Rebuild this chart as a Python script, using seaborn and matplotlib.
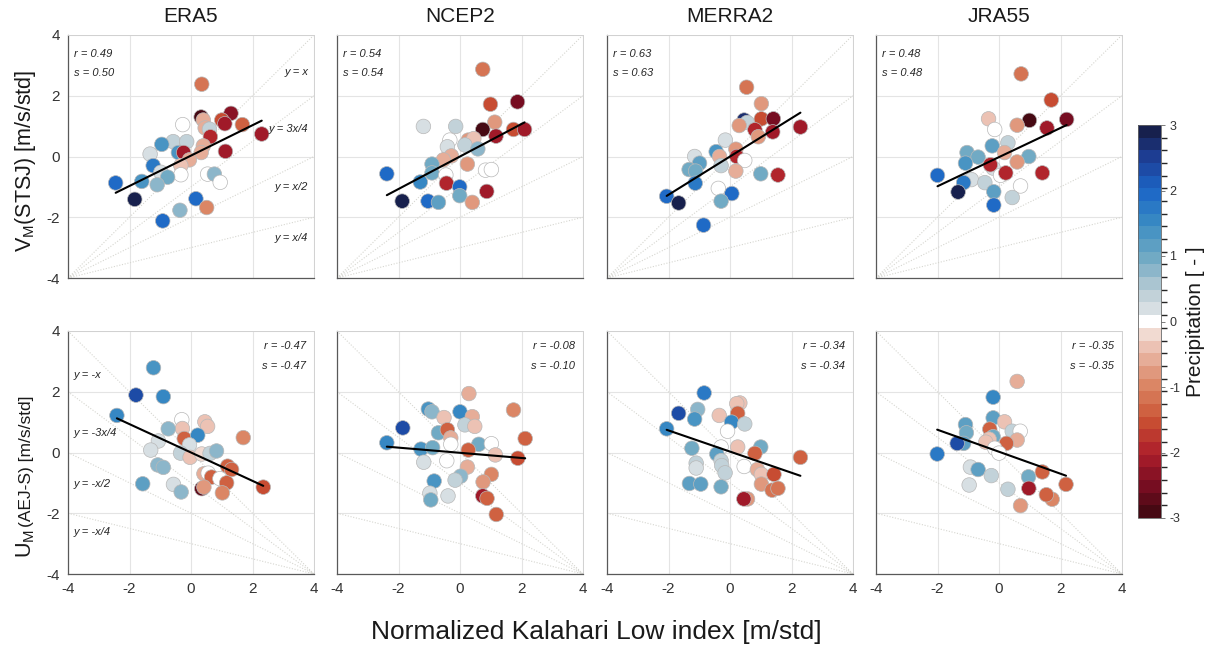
import numpy as np
import pandas as pd
import matplotlib
matplotlib.use("Agg")
import matplotlib.pyplot as plt
import seaborn as sns
from matplotlib.colors import LinearSegmentedColormap, ListedColormap, BoundaryNorm

# ---------------- data ----------------
datasets = ["ERA5", "NCEP2", "MERRA2", "JRA55"]

# Top row: V_M(STSJ) vs Kalahari Low index
era5_v_x = [0.35, 0.33, 0.40, 1.30, 1.00, 1.10, 1.67, 2.30, -0.27, 0.46, 0.60, 0.63, -0.58, -0.14, -0.95, -1.33, -0.41, -0.24, 0.40, 0.33, 1.12, -0.05, -0.33, -1.23, -0.98, -0.33, 0.54, 0.76, 0.95, -0.76, -1.60, -2.45, -1.10, -1.83, 0.16, 0.51, -0.36, -0.92]
era5_v_y = [2.38, 1.30, 1.20, 1.42, 1.20, 1.08, 1.05, 0.74, 1.05, 0.94, 0.90, 0.65, 0.49, 0.49, 0.40, 0.08, 0.13, 0.13, 0.35, 0.13, 0.17, -0.11, -0.30, -0.30, -0.52, -0.60, -0.58, -0.58, -0.85, -0.68, -0.82, -0.87, -0.93, -1.41, -1.39, -1.68, -1.77, -2.12]
era5_v_p = [-1.2, -2.9, -0.6, -2.4, -1.6, -2.1, -1.4, -2.1, 0, -0.5, 0.4, -2.0, 0.3, 0.3, 1.3, 0.2, 1.4, -2.1, -0.6, -0.5, -2.2, -0.5, -0.4, 1.8, 0.2, 0, 0, 0.8, 0, 0.9, 1.3, 2.0, 0.8, 2.9, 2.0, -0.9, 0.8, 1.9]

ncep2_v_x = [0.74, 0.99, 1.87, 1.13, -1.19, -0.14, 0.74, 1.17, 1.74, 2.10, -0.33, 0.27, 0.45, -0.41, 0.16, 0.58, -0.28, -0.54, -0.91, -0.91, 0.24, 0.83, 1.02, -0.46, -2.38, -1.29, -0.44, -0.01, 0.87, -0.01, -1.88, -1.04, -0.70, 0.40]
ncep2_v_y = [2.87, 1.72, 1.80, 1.13, 0.99, 0.99, 0.89, 0.67, 0.89, 0.89, 0.54, 0.54, 0.59, 0.32, 0.38, 0.25, 0.02, -0.11, -0.25, -0.54, -0.25, -0.45, -0.43, -0.61, -0.57, -0.84, -0.88, -1.00, -1.15, -1.29, -1.47, -1.47, -1.51, -1.51]
ncep2_v_p = [-1.2, -1.5, -2.5, -0.8, 0.2, 0.3, -2.9, -2.1, -1.5, -2.1, 0, -0.7, -0.3, 0.2, 0.4, 0.8, -0.6, -0.5, 0.9, 1.0, -0.7, 0, 0, 0, 2.0, 1.6, -2.0, 2.0, -2.1, 1.0, 2.9, 1.9, 1.2, -0.8]

merra2_v_x = [0.54, 1.02, 0.46, 0.56, 1.02, 1.41, 0.30, 0.81, 1.39, 2.29, 0.92, -0.15, -0.45, 0.19, -0.34, 0.22, 0.48, -1.15, -0.99, -1.33, -1.12, -0.29, 0.19, 1.00, 1.56, -1.13, -0.38, 0.06, -2.06, -1.67, -0.29, -0.86]
merra2_v_y = [2.28, 1.74, 1.20, 1.12, 1.24, 1.24, 1.02, 0.88, 0.81, 0.97, 0.65, 0.54, 0.16, 0.24, 0.00, 0.00, -0.13, 0.00, -0.22, -0.43, -0.48, -0.30, -0.48, -0.57, -0.61, -0.88, -1.05, -1.22, -1.31, -1.53, -1.47, -2.26]
merra2_v_p = [-1.2, -0.8, 2.8, 0.4, -1.6, -2.5, -0.7, -2.0, -2.2, -2.1, -0.8, 0.2, 1.3, -0.7, -0.5, -2.0, 0, 0.2, 1.2, 0.9, 0.9, 0.4, -0.6, 0.9, -2.0, 1.7, 0, 1.9, 2.0, 2.9, 1.0, 1.9]

jra55_v_x = [0.72, 1.70, 2.20, 0.99, 0.59, 1.56, -0.34, -0.14, 0.29, -0.22, -1.04, -0.68, 0.18, 0.97, -1.09, -0.19, -0.28, 0.59, 0.05, 0.22, 1.41, -2.00, -0.90, -1.15, -0.46, 0.70, -1.33, -0.17, 0.43, -0.17]
jra55_v_y = [2.72, 1.86, 1.22, 1.19, 1.03, 0.94, 1.24, 0.89, 0.45, 0.35, 0.13, -0.02, 0.13, 0.00, -0.22, -0.38, -0.27, -0.18, -0.62, -0.54, -0.54, -0.62, -0.76, -0.86, -0.86, -0.97, -1.17, -1.16, -1.35, -1.60]
jra55_v_p = [-1.2, -1.5, -2.5, -2.9, -0.8, -2.1, -0.4, 0, 0.3, 1.2, 0.9, 1.0, -0.6, 0.9, 1.3, 0.2, -2.0, -0.7, 0, -2.0, -2.0, 2.0, 0.2, 1.7, 0.3, 0, 2.9, 1.1, 0.4, 1.9]

# Bottom row: U_M(AEJ-S) vs Kalahari Low index
era5_u_x = [-1.22, -1.79, -0.90, -2.41, -0.30, 0.45, 0.54, -0.28, -0.74, -0.22, 0.22, 1.70, -1.06, -1.31, -0.05, -0.34, -0.03, 0.35, 0.62, 0.83, -1.08, -0.90, 1.19, 1.32, 0.42, 0.56, 0.67, 0.94, 1.16, -1.57, -0.57, -0.32, 0.35, 0.42, 1.02, 2.35]
era5_u_y = [2.79, 1.89, 1.84, 1.22, 1.08, 1.01, 0.86, 0.79, 0.78, 0.46, 0.57, 0.49, 0.38, 0.08, 0.25, -0.02, -0.16, -0.05, -0.03, 0.05, -0.41, -0.49, -0.45, -0.56, -0.70, -0.68, -0.81, -0.86, -1.00, -1.03, -1.05, -1.30, -1.19, -1.14, -1.33, -1.14]
era5_u_p = [1.3, 2.3, 1.6, 1.6, 0, -0.4, -0.4, -0.3, 0.8, -1.4, 1.6, -1.0, 0.2, 0.2, 0.2, 0.3, -0.3, -0.2, 0.3, 0.8, 0.8, 0.8, -1.4, -1.3, -0.6, 0, -1.3, 0, -1.4, 1.2, 0.2, 0.8, -2.8, -0.7, -1.0, -1.5]

ncep2_u_x = [0.29, 1.74, -1.03, -0.91, 0.00, -0.52, 0.40, 0.16, 0.48, -1.86, -0.70, -0.41, -0.30, -0.30, 2.12, -2.38, -1.27, -0.89, 0.61, 1.02, 0.27, 1.15, 1.88, -1.18, -0.43, 0.24, 1.02, 0.02, -0.16, 0.75, -0.84, -0.98, -0.95, -0.39, 0.74, 0.88, 1.18]
ncep2_u_y = [1.94, 1.40, 1.43, 1.34, 1.34, 1.15, 1.18, 0.91, 0.86, 0.81, 0.65, 0.75, 0.48, 0.27, 0.46, 0.32, 0.11, 0.16, 0.27, 0.29, 0.08, -0.08, -0.19, -0.32, -0.27, -0.48, -0.72, -0.78, -0.91, -0.97, -0.94, -1.34, -1.56, -1.43, -1.43, -1.51, -2.04]
ncep2_u_p = [-0.5, -1.0, 1.4, 0.8, 1.5, -0.3, -0.5, 0.4, -0.3, 2.3, 0.9, -1.4, -0.5, 0, -1.4, 1.6, 1.4, 0.9, 0.9, 0, -1.4, -0.4, -1.6, 0.2, 0, -0.6, -1.0, 0.8, 0.3, -0.8, 1.3, 0.2, 0.9, 0.2, -2.2, -1.3, -1.4]

merra2_u_x = [-0.84, 0.32, 0.22, -1.67, -1.05, 0.25, -1.15, -0.35, 0.05, 0.48, -0.08, -2.06, -0.29, 0.25, -1.24, 1.00, -0.43, 0.81, 2.29, -1.10, -1.10, -0.29, -0.27, -0.16, 0.46, 0.89, 1.02, 1.43, -1.32, -0.95, -0.29, 1.02, 1.37, 1.56, 0.57, 0.45]
merra2_u_y = [1.96, 1.63, 1.61, 1.29, 1.42, 1.29, 1.10, 1.22, 1.00, 0.94, 0.70, 0.78, 0.18, 0.18, 0.14, 0.18, -0.05, -0.03, -0.16, -0.35, -0.51, -0.27, -0.43, -0.67, -0.46, -0.56, -0.72, -0.72, -1.02, -1.04, -1.13, -1.04, -1.24, -1.18, -1.53, -1.53]
merra2_u_p = [1.7, -0.4, -0.3, 2.3, 0.8, -1.4, 1.3, -0.4, 1.6, 0.4, 0, 1.6, 0, -0.4, 0.9, 0.9, 1.2, -1.4, -1.3, 0.3, 0.2, 0.3, 0.4, 0.3, 0, -0.5, -0.4, -1.5, 1.2, 1.1, 0.9, -0.8, -1.2, -1.1, -0.8, -2.2]

jra55_u_x = [0.59, -0.19, -0.19, -1.09, -1.06, 0.18, 0.43, 0.69, -0.30, -0.19, 0.59, 0.24, -0.32, -0.43, -1.15, -1.36, -0.14, 0.00, -2.01, -0.93, -0.68, -0.25, 0.96, 1.41, 2.18, -0.97, 0.29, 0.97, 1.73, 1.54, 0.70]
jra55_u_y = [2.34, 1.82, 1.14, 0.92, 0.65, 1.01, 0.70, 0.70, 0.77, 0.52, 0.41, 0.30, 0.44, 0.34, 0.30, 0.30, 0.14, -0.02, -0.05, -0.48, -0.56, -0.76, -0.80, -0.64, -1.05, -1.07, -1.21, -1.18, -1.54, -1.39, -1.75]
jra55_u_p = [-0.5, 1.6, 1.1, 1.2, 0.9, -0.4, 0.4, 0, -1.4, 1.0, -0.5, -1.4, -0.3, -0.3, 1.2, 2.3, 0, 0, 1.7, 0.2, 1.1, 0.4, 0.9, -1.3, -1.4, 0.2, 0.4, -2.2, -1.0, -1.3, -0.8]

# statistics and regression lines
v_r = ["0.49", "0.54", "0.63", "0.48"]
v_s = ["0.50", "0.54", "0.63", "0.48"]
u_r = ["-0.47", "-0.08", "-0.34", "-0.35"]
u_s = ["-0.47", "-0.10", "-0.34", "-0.35"]
v_fit_slope = [0.50, 0.535, 0.63, 0.48]
v_fit_icpt = [0.03, 0.0, 0.0, -0.02]
u_fit_slope = [-0.467, -0.085, -0.348, -0.362]
u_fit_icpt = [0.0, -0.01, 0.03, 0.025]

ref_slopes = [1.0, 0.75, 0.5, 0.25]
v_ref_labels = ["y = x", "y = 3x/4", "y = x/2", "y = x/4"]
v_ref_label_y = [2.79, 0.89, -1.01, -2.67]
u_ref_labels = ["y = -x", "y = -3x/4", "y = -x/2", "y = -x/4"]
u_ref_label_y = [2.56, 0.63, -1.03, -2.63]

cbar_ticks = [-3, -2, -1, 0, 1, 2, 3]

v_data = [(era5_v_x, era5_v_y, era5_v_p), (ncep2_v_x, ncep2_v_y, ncep2_v_p),
          (merra2_v_x, merra2_v_y, merra2_v_p), (jra55_v_x, jra55_v_y, jra55_v_p)]
u_data = [(era5_u_x, era5_u_y, era5_u_p), (ncep2_u_x, ncep2_u_y, ncep2_u_p),
          (merra2_u_x, merra2_u_y, merra2_u_p), (jra55_u_x, jra55_u_y, jra55_u_p)]

# ---------------- style ----------------
sns.set_theme(style="white")
plt.rcParams["font.family"] = ["Liberation Sans", "DejaVu Sans"]
plt.rcParams["mathtext.fontset"] = "custom"
plt.rcParams["mathtext.rm"] = "Liberation Sans"
plt.rcParams["axes.unicode_minus"] = False

anchors = [(-3, "#3a0810"), (-2.5, "#7a0d22"), (-2, "#ad1f2b"), (-1.5, "#cb5333"),
           (-1, "#da8462"), (-0.5, "#e8b4a2"), (-0.15, "#f3e0d9"), (0, "#ffffff"),
           (0.15, "#dde3e6"), (0.5, "#b5cad3"), (1, "#6ea8c3"), (1.5, "#3a8cc3"),
           (2, "#1b66c6"), (2.5, "#1e3f97"), (3, "#15193c")]
base = LinearSegmentedColormap.from_list("pr", [((v + 3) / 6, c) for v, c in anchors])
nlev = 31
centers = (np.arange(nlev) + 0.5) / nlev
cols = base(centers)
cols[nlev // 2] = [1, 1, 1, 1]
cmap = ListedColormap(cols)
norm = BoundaryNorm(np.linspace(-3, 3, nlev + 1), nlev)

W, H = 1211, 650
fig = plt.figure(figsize=(W / 100, H / 100), dpi=100)

lefts = [68, 337, 607, 876]
row_tops = [35, 331]
aw, ah = 246, 243

for row in range(2):
    for col in range(4):
        l = lefts[col]
        t = row_tops[row]
        ax = fig.add_axes([l / W, 1 - (t + ah) / H, aw / W, ah / H])
        if row == 0:
            xs, ys, ps = v_data[col]
            slope, icpt = v_fit_slope[col], v_fit_icpt[col]
        else:
            xs, ys, ps = u_data[col]
            slope, icpt = u_fit_slope[col], u_fit_icpt[col]
        df = pd.DataFrame({"x": xs, "y": ys, "p": ps})

        ax.set_xlim(-4, 4)
        ax.set_ylim(-4, 4)
        ax.set_xticks([-4, -2, 0, 2, 4])
        ax.set_yticks([-4, -2, 0, 2, 4])
        ax.grid(True, color="#e4e4e4", lw=0.8)
        ax.set_axisbelow(True)

        # reference lines
        xr = np.array([-4.0, 4.0])
        for k in ref_slopes:
            if row == 0:
                yr = -4 + k * (xr + 4)
            else:
                yr = -4 - k * (xr - 4)
            ax.plot(xr, yr, ls=(0, (1, 1.5)), color="#d6d6d0", lw=0.8, zorder=1)

        sns.scatterplot(data=df, x="x", y="y", hue="p", palette=cmap, hue_norm=norm,
                        s=110, edgecolor="#b8b8b8", linewidth=0.5, legend=False,
                        ax=ax, zorder=3)

        xl = np.array([df["x"].min(), df["x"].max()])
        sns.lineplot(x=xl, y=slope * xl + icpt, color="black", lw=1.5, ax=ax, zorder=4)

        # texts
        if row == 0:
            ax.text(-3.8, 3.37, f"r = {v_r[col]}", style="italic", fontsize=8, va="center", ha="left", color="0.15")
            ax.text(-3.8, 2.74, f"s = {v_s[col]}", style="italic", fontsize=8, va="center", ha="left", color="0.15")
            if col == 0:
                for lab, yy in zip(v_ref_labels, v_ref_label_y):
                    ax.text(3.82, yy, lab, style="italic", fontsize=8, va="center", ha="right", color="0.15")
        else:
            ax.text(3.75, 3.49, f"r = {u_r[col]}", style="italic", fontsize=8, va="center", ha="right", color="0.15")
            ax.text(3.75, 2.86, f"s = {u_s[col]}", style="italic", fontsize=8, va="center", ha="right", color="0.15")
            if col == 0:
                for lab, yy in zip(u_ref_labels, u_ref_label_y):
                    ax.text(-3.82, yy, lab, style="italic", fontsize=8, va="center", ha="left", color="0.15")

        ax.set_xlabel("")
        ax.set_ylabel("")
        for side in ["left", "bottom"]:
            ax.spines[side].set_color("0.35")
            ax.spines[side].set_linewidth(0.9)
        for side in ["top", "right"]:
            ax.spines[side].set_color("0.82")
            ax.spines[side].set_linewidth(0.7)
        ax.tick_params(direction="in", length=3, width=0.7, color="0.35",
                       labelsize=11, labelcolor="0.2", pad=6)
        if row == 0:
            ax.tick_params(labelbottom=False)
            ax.set_title(datasets[col], fontsize=15, pad=9, color="0.1")
        if col != 0:
            ax.tick_params(labelleft=False)

# colorbar
cax = fig.add_axes([1138 / W, 1 - 518 / H, 23 / W, 393 / H])
sm = plt.cm.ScalarMappable(norm=norm, cmap=cmap)
cb = fig.colorbar(sm, cax=cax, ticks=cbar_ticks)
cb.outline.set_linewidth(0.6)
cb.outline.set_edgecolor("0.4")
cb.ax.tick_params(labelsize=9, length=3, width=0.6, direction="out", color="0.4", labelcolor="0.2", pad=3)
cb.set_label("Precipitation [ - ]", fontsize=15, labelpad=4, color="0.1")

# x label
fig.text(596 / W, 1 - 632 / H, "Normalized Kalahari Low index [m/std]",
         ha="center", va="center", fontsize=19, color="0.1")

# y labels
fig.text(31 / W, 1 - 252 / H, r"V$_\mathregular{M}$(STSJ) [m/s/std]", rotation=90,
         rotation_mode="anchor", ha="left", va="baseline", fontsize=15.5, color="0.1")
t1 = fig.text(31 / W, 1 - 558 / H, r"U$_\mathregular{M}$ ", rotation=90,
              rotation_mode="anchor", ha="left", va="baseline", fontsize=15.5, color="0.1")
renderer = fig.canvas.get_renderer()
bb = t1.get_window_extent(renderer)
fig.text(31 / W, bb.y1 / H, "(AEJ-S) [m/s/std]", rotation=90,
         rotation_mode="anchor", ha="left", va="baseline", fontsize=12.5, color="0.1")

fig.savefig("out.png", dpi=100)
